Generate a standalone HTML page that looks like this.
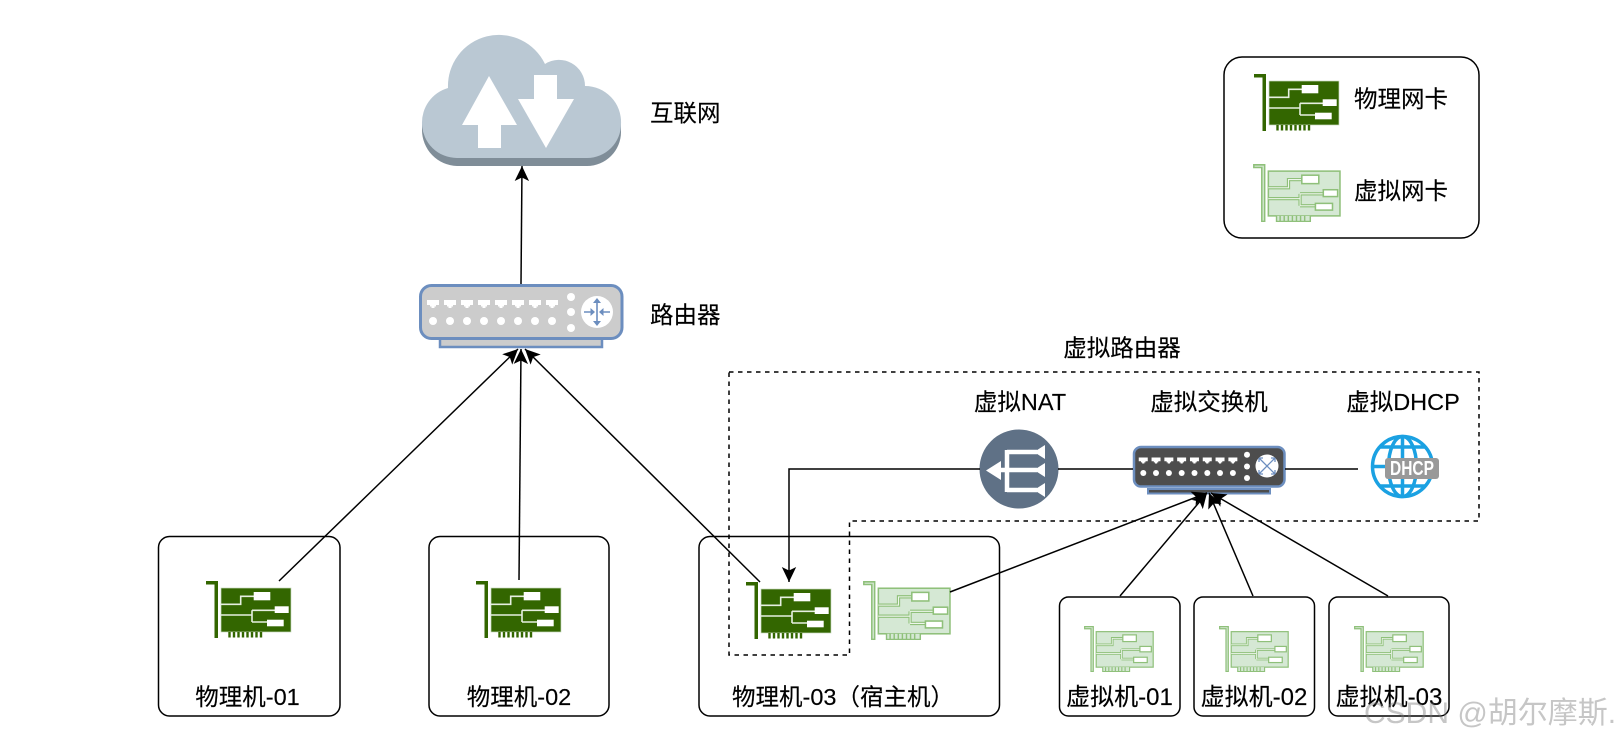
<!DOCTYPE html>
<html><head><meta charset="utf-8"><style>
html,body{margin:0;padding:0;background:#fff;width:1624px;height:741px;overflow:hidden}
svg{display:block}
text{font-family:"Liberation Sans","Noto Sans CJK SC",sans-serif;font-size:23.5px;fill:#000;stroke:#000;stroke-width:.15}
.b{fill:#fff;stroke:#000;stroke-width:1.5}
.l{fill:none;stroke:#000;stroke-width:1.5}
</style></head><body>
<svg width="1624" height="741" viewBox="0 0 1624 741" xmlns="http://www.w3.org/2000/svg">
<defs>
<marker id="a" markerUnits="userSpaceOnUse" markerWidth="16" markerHeight="16" viewBox="0 0 16 16" refX="15" refY="8" orient="auto"><path d="M15 8L0 .8 3.500 8 0 15.200Z" fill="#000"/></marker>
<symbol id="p" viewBox="0 0 86 57" preserveAspectRatio="none">
<path d="M0 0H12V57H8.500V3.500H0Z" fill="#336600"/>
<rect x="15" y="7" width="70" height="44" fill="#336600" stroke="#c9dcc0" stroke-width=".7"/>
<path d="M23.500 51v5.500M28 51v5.500M32.500 51v5.500M37 51v5.500M41.500 51v5.500M46 51v5.500M50.500 51v5.500M55 51v5.500" stroke="#336600" stroke-width="2.400"/>
<path d="M15 23.300H34.700V15.300H48M15 34H46M46 29.300V41M46 29.300H69M46 41H62" fill="none" stroke="#e6efe0" stroke-width="1.600"/>
<rect x="47.700" y="11" width="16.600" height="8.300" fill="#fff"/><rect x="68.700" y="25.300" width="14" height="6.700" fill="#fff"/><rect x="61" y="38.700" width="16.700" height="6.600" fill="#fff"/>
</symbol>
<symbol id="v" viewBox="0 0 86 57" preserveAspectRatio="none">
<path d="M.8.8H11.400V56.400H8.600V3.400H.8Z" fill="#d5e8d4" stroke="#8fc07a" stroke-width="1.500"/>
<rect x="15" y="7" width="70" height="44" fill="#d5e8d4" stroke="#8fc07a" stroke-width="1.500"/>
<path d="M23 51v5.500H56V51M26.500 51v5M30.500 51v5M34.500 51v5M38.500 51v5M42.500 51v5M46.500 51v5M50.500 51v5" fill="#d5e8d4" stroke="#8fc07a" stroke-width="1.400"/>
<path d="M15 23.300H34.700V15.300H48M15 34H46M46 29.300V41M46 29.300H69M46 41H62" fill="none" stroke="#8fc07a" stroke-width="3.200"/>
<path d="M15 23.300H34.700V15.300H48M15 34H46M46 29.300V41M46 29.300H69M46 41H62" fill="none" stroke="#eef6ec" stroke-width="1"/>
<g fill="#fff" stroke="#8fc07a" stroke-width="1.500"><rect x="47.700" y="11" width="16.600" height="8.300"/><rect x="68.700" y="25.300" width="14" height="6.700"/><rect x="61" y="38.700" width="16.700" height="6.600"/></g>
</symbol>
<symbol id="port" viewBox="0 0 12 8"><path d="M0 0H12V5H9V6.500H7.500V8H4.500V6.500H3V5H0Z" fill="#fff"/></symbol>
</defs>

<!-- boxes -->
<rect class="b" x="158.500" y="536.500" width="181.500" height="179.500" rx="11"/>
<rect class="b" x="429" y="536.500" width="180" height="179.500" rx="11"/>
<rect class="b" x="699" y="536.500" width="300.500" height="179.500" rx="11"/>
<rect class="b" x="1059.500" y="597" width="120.500" height="119" rx="9"/>
<rect class="b" x="1194" y="597" width="120.500" height="119" rx="9"/>
<rect class="b" x="1329" y="597" width="120" height="119" rx="9"/>
<rect class="b" x="1224" y="57" width="255" height="181" rx="18"/>
<path d="M729 372H1479V521H849.500V655H729Z" fill="none" stroke="#000" stroke-width="1.500" stroke-dasharray="4.500 4.500"/>

<!-- cloud -->
<path d="M422 122V130A36 36 0 0 0 457 166H587A34 34 0 0 0 621 132V122Z" fill="#7f8d98"/>
<path d="M448 88A51 51 0 0 1 545 64A26 26 0 0 1 585 86A36 36 0 0 1 621 124A34 34 0 0 1 587 158H457A35 35 0 0 1 422 124A36 36 0 0 1 448 88Z" fill="#bac8d3"/>
<path d="M489 76L517 125H501V148H478V125H462Z M534 75H557V99H574L546 148L518 99H534Z" fill="#fff"/>

<!-- router -->
<rect x="440" y="334" width="162" height="13" fill="#cccccc" stroke="#6c8ebf" stroke-width="2.500"/>
<rect x="420.500" y="285.500" width="201.500" height="53" rx="11" fill="#cccccc" stroke="#6c8ebf" stroke-width="3"/>
<g fill="#fff">
<use href="#port" x="427" y="300" width="12" height="8"/><use href="#port" x="444" y="300" width="12" height="8"/><use href="#port" x="461" y="300" width="12" height="8"/><use href="#port" x="478" y="300" width="12" height="8"/><use href="#port" x="495" y="300" width="12" height="8"/><use href="#port" x="512" y="300" width="12" height="8"/><use href="#port" x="529" y="300" width="12" height="8"/><use href="#port" x="546" y="300" width="12" height="8"/>
<circle cx="433" cy="321" r="4"/><circle cx="450" cy="321" r="4"/><circle cx="467" cy="321" r="4"/><circle cx="484" cy="321" r="4"/><circle cx="501" cy="321" r="4"/><circle cx="518" cy="321" r="4"/><circle cx="535" cy="321" r="4"/><circle cx="552" cy="321" r="4"/>
<circle cx="571" cy="297" r="4"/><circle cx="571" cy="312" r="4"/><circle cx="571" cy="328" r="4"/>
<circle cx="597" cy="312" r="16"/>
</g>
<g fill="#6c8ebf"><path d="M596.200 302h1.600v20h-1.600z M584 311.200h8v1.600h-8z M602 311.200h8v1.600h-8z"/><path d="M597 298l4 5h-8z M597 326l4-5h-8z M595 312l-4.500-4v8z M599 312l4.500-4v8z"/></g>

<!-- NAT -->
<circle cx="1019" cy="469" r="39.500" fill="#5f7186"/>
<path d="M998 470H1037M1007 452H1037M1007 490H1037M1007 450V492" fill="none" stroke="#fff" stroke-width="4.500"/>
<path d="M986 470.500L1001 461V480Z M1034 452L1045 445V459Z M1034 470L1045 463V477Z M1034 490L1045 483V497Z" fill="#fff"/>

<!-- switch -->
<rect x="1148" y="489" width="122" height="4.500" fill="#4d4d4d" stroke="#6c8ebf" stroke-width="2"/>
<rect x="1134" y="447" width="150.500" height="39.500" rx="7" fill="#4d4d4d" stroke="#6c8ebf" stroke-width="2.500"/>
<use href="#port" x="1138.500" y="457.500" width="9.500" height="6"/><use href="#port" x="1151.300" y="457.500" width="9.500" height="6"/><use href="#port" x="1164.100" y="457.500" width="9.500" height="6"/><use href="#port" x="1176.900" y="457.500" width="9.500" height="6"/><use href="#port" x="1189.700" y="457.500" width="9.500" height="6"/><use href="#port" x="1202.500" y="457.500" width="9.500" height="6"/><use href="#port" x="1215.300" y="457.500" width="9.500" height="6"/><use href="#port" x="1228.100" y="457.500" width="9.500" height="6"/>
<g fill="#fff">
<circle cx="1143.300" cy="473" r="3"/><circle cx="1156" cy="473" r="3"/><circle cx="1168.900" cy="473" r="3"/><circle cx="1181.700" cy="473" r="3"/><circle cx="1194.500" cy="473" r="3"/><circle cx="1207.300" cy="473" r="3"/><circle cx="1220" cy="473" r="3"/><circle cx="1232.900" cy="473" r="3"/>
<circle cx="1247" cy="454.700" r="3"/><circle cx="1247" cy="466.500" r="3"/><circle cx="1247" cy="478" r="3"/>
<circle cx="1267" cy="466" r="11.500"/>
</g>
<path d="M1259 458L1275 474M1275 458L1259 474M1259 458h4M1259 458v4M1275 458h-4M1275 458v4M1259 474h4M1259 474v-4M1275 474h-4M1275 474v-4" fill="none" stroke="#6c8ebf" stroke-width="1.300"/>

<!-- DHCP -->
<g fill="none" stroke="#1ba1e2" stroke-width="3.500">
<circle cx="1402.500" cy="466.500" r="30"/>
<ellipse cx="1402.500" cy="466.500" rx="14" ry="30"/>
<path d="M1402.500 436.500V496.500M1372.500 466.500H1432.500M1380 447H1425M1380 486H1425"/>
</g>
<rect x="1385" y="458" width="54" height="21" rx="3" fill="#999"/>
<text x="1412" y="475" text-anchor="middle" textLength="44" lengthAdjust="spacingAndGlyphs" style="font-size:20px;font-weight:bold;fill:#fff;stroke:none">DHCP</text>

<!-- NICs -->
<use href="#p" x="206" y="581" width="86" height="57"/>
<use href="#p" x="476" y="581" width="86" height="57"/>
<use href="#p" x="746" y="582" width="86" height="57"/>
<use href="#v" x="863" y="581" width="88" height="59"/>
<use href="#p" x="1254" y="74" width="86" height="57"/>
<use href="#v" x="1253" y="164" width="88" height="58"/>
<use href="#v" x="1084" y="626" width="70" height="46"/>
<use href="#v" x="1219" y="626" width="70" height="46"/>
<use href="#v" x="1354" y="626" width="70" height="46"/>

<!-- connectors -->
<path class="l" d="M521 284L522 166" marker-end="url(#a)"/>
<path class="l" d="M279 581L518 349" marker-end="url(#a)"/>
<path class="l" d="M519 580L521 349" marker-end="url(#a)"/>
<path class="l" d="M760 582L525 349" marker-end="url(#a)"/>
<path class="l" d="M980 469H789V582" marker-end="url(#a)"/>
<path class="l" d="M1058 469H1133M1285 469H1358"/>
<path class="l" d="M950 592L1207 493" marker-end="url(#a)"/>
<path class="l" d="M1120 596L1207 493" marker-end="url(#a)"/>
<path class="l" d="M1253 596L1209 493" marker-end="url(#a)"/>
<path class="l" d="M1388 596L1211 493" marker-end="url(#a)"/>

<!-- labels -->
<text x="650" y="121">互联网</text>
<text x="650" y="323">路由器</text>
<text x="1354" y="107">物理网卡</text>
<text x="1354" y="199">虚拟网卡</text>
<text x="1122" y="356" text-anchor="middle">虚拟路由器</text>
<text x="1020" y="410" text-anchor="middle">虚拟NAT</text>
<text x="1209" y="410" text-anchor="middle">虚拟交换机</text>
<text x="1403" y="410" text-anchor="middle">虚拟DHCP</text>
<text x="247.500" y="705" text-anchor="middle">物理机-01</text>
<text x="519" y="705" text-anchor="middle">物理机-02</text>
<text x="843" y="705" text-anchor="middle">物理机-03（宿主机）</text>
<text x="1119.500" y="705" text-anchor="middle" style="font-size:24px">虚拟机-01</text>
<text x="1254" y="705" text-anchor="middle" style="font-size:24px">虚拟机-02</text>
<text x="1389" y="705" text-anchor="middle" style="font-size:24px">虚拟机-03</text>
<text x="1364" y="723" style="font-size:30px;fill:rgba(120,120,120,.42);stroke:none">CSDN @胡尔摩斯.</text>
</svg>
</body></html>
